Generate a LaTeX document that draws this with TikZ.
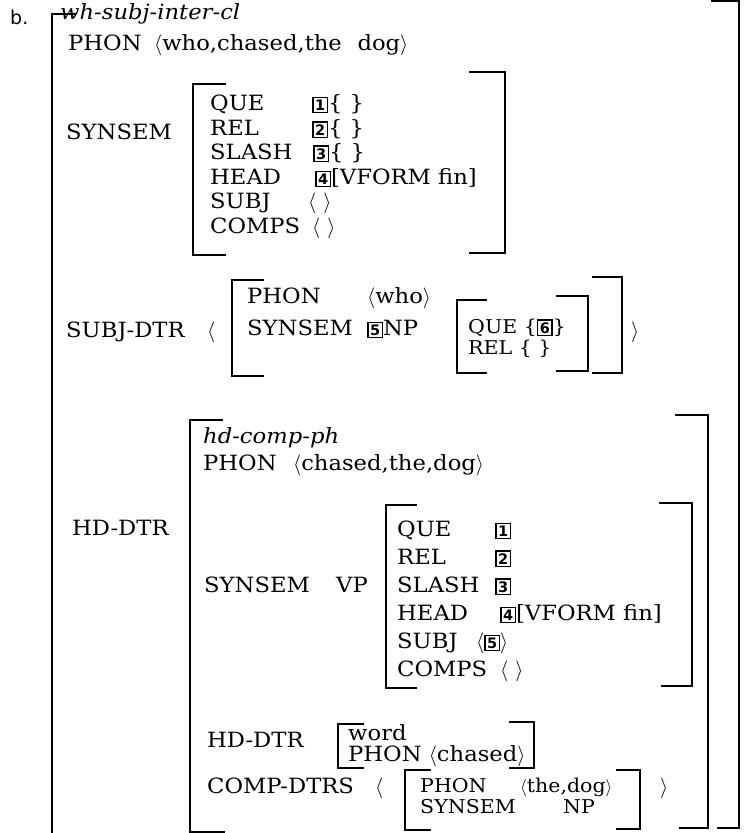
\documentclass[tikz,border=0pt]{standalone}
\usepackage{fontspec}
\setmainfont{DejaVu Serif}[FakeStretch=1.08]
\newfontfamily\numfont{DejaVu Sans}
\newcommand\bx[1]{{\setlength\fboxsep{1.6pt}\setlength\fboxrule{1.3pt}\fbox{\numfont\bfseries\fontsize{14.5}{14.5}\selectfont #1}}}
\newcommand\la{$\langle$}
\newcommand\ra{$\rangle$}
\tikzset{
  tx/.style={anchor=base west,inner sep=0pt,font=\fontsize{21}{23}\selectfont},
  stx/.style={anchor=base west,inner sep=0pt,font=\fontsize{19}{21}\selectfont},
  itx/.style={tx,font=\fontsize{21}{23}\selectfont\itshape},
  brk/.style={line width=1.8pt,line cap=rect}
}
\begin{document}
\begin{tikzpicture}[x=1pt,y=-1pt]
\useasboundingbox (0,0) rectangle (745,833);
% outer bracket
\node[tx,font=\numfont\fontsize{19}{21}\selectfont] (lbl) at (10,24) {b.};
\draw[brk] (75,14) -- (52,14) -- (52,833);
\draw[brk] (712,1) -- (739,1) -- (739,828) -- (718,828);
\node[itx] (type1) at (60,19) {wh-subj-inter-cl};
\node[tx] (phon1) at (68,50) {PHON};
\node[tx] (phon1v) at (154,50) {\la who,chased,the\hspace{0.4em} dog\ra};
\node[tx] (syn1) at (66,139) {SYNSEM};
% synsem AVM
\draw[brk] (225,84) -- (193,84) -- (193,255) -- (225,255);
\draw[brk] (470,72) -- (505,72) -- (505,253) -- (470,253);
\node[tx] (q1) at (210,110) {QUE};
\node[tx] (q1v) at (312,110) {\bx{1}\{ \}};
\node[tx] (r1) at (210,135) {REL};
\node[tx] (r1v) at (312,135) {\bx{2}\{ \}};
\node[tx] (s1) at (210,159) {SLASH};
\node[tx] (s1v) at (313,159) {\bx{3}\{ \}};
\node[tx] (h1) at (210,184) {HEAD};
\node[tx] (h1v) at (315,184) {\bx{4}[VFORM fin]};
\node[tx] (sb1) at (210,208) {SUBJ};
\node[tx] (sb1v) at (308,208) {\la\ \ra};
\node[tx] (c1) at (210,233) {COMPS};
\node[tx] (c1v) at (312,233) {\la\ \ra};
% subj-dtr
\node[tx] (sd) at (66,337) {SUBJ-DTR};
\node[tx] (sdl) at (207,337) {\la};
\draw[brk] (263,280) -- (232,280) -- (232,376) -- (263,376);
\draw[brk] (593,277) -- (622,277) -- (622,373) -- (593,373);
\node[tx] (p2) at (247,303) {PHON};
\node[tx] (p2v) at (367,303) {\la who\ra};
\node[tx] (s2) at (247,335) {SYNSEM};
\node[tx] (s2v) at (367,335) {\bx{5}NP};
\draw[brk] (486,300) -- (457,300) -- (457,373) -- (486,373);
\draw[brk] (557,296) -- (588,296) -- (588,371) -- (557,371);
\node[stx] (q2) at (468,333) {QUE \{\bx{6}\}};
\node[stx] (r2) at (468,354) {REL \{ \}};
\node[tx] (sdr) at (631,337) {\ra};
% hd-dtr
\node[tx] (hd) at (72,535) {HD-DTR};
\draw[brk] (222,420) -- (190,420) -- (190,832) -- (224,832);
\draw[brk] (676,415) -- (708,415) -- (708,828) -- (680,828);
\node[itx] (type3) at (203,443) {hd-comp-ph};
\node[tx] (p3) at (203,470) {PHON};
\node[tx] (p3v) at (293,470) {\la chased,the,dog\ra};
\node[tx] (s3) at (204,592) {SYNSEM};
\node[tx] (s3v) at (336,592) {VP};
% VP AVM
\draw[brk] (416,505) -- (386,505) -- (386,688) -- (416,688);
\draw[brk] (660,503) -- (692,503) -- (692,686) -- (662,686);
\node[tx] (q3) at (397,536) {QUE};
\node[tx] (q3v) at (495,536) {\bx{1}};
\node[tx] (r3) at (397,564) {REL};
\node[tx] (r3v) at (495,564) {\bx{2}};
\node[tx] (sl3) at (397,592) {SLASH};
\node[tx] (sl3v) at (495,592) {\bx{3}};
\node[tx] (h3) at (397,620) {HEAD};
\node[tx] (h3v) at (500,620) {\bx{4}[VFORM fin]};
\node[tx] (sb3) at (397,648) {SUBJ};
\node[tx] (sb3v) at (476,648) {\la\bx{5}\ra};
\node[tx] (c3) at (397,676) {COMPS};
\node[tx] (c3v) at (500,676) {\la\ \ra};
% head daughter word
\node[tx] (hd2) at (207,747) {HD-DTR};
\draw[brk] (363,724) -- (338,724) -- (338,768) -- (363,768);
\draw[brk] (510,722) -- (534,722) -- (534,768) -- (510,768);
\node[tx] (w) at (348,740) {word};
\node[tx] (w2) at (348,761) {PHON \la chased\ra};
% comp-dtrs
\node[tx] (cd) at (207,793) {COMP-DTRS};
\node[tx] (cdl) at (375,793) {\la};
\draw[brk] (430,770) -- (405,770) -- (405,830) -- (430,830);
\draw[brk] (617,770) -- (640,770) -- (640,829) -- (617,829);
\node[stx] (p4) at (420,792) {PHON};
\node[stx] (p4v) at (520,792) {\la the,dog\ra};
\node[stx] (s4) at (420,813) {SYNSEM};
\node[stx] (s4v) at (563,813) {NP};
\node[tx] (cdr) at (660,793) {\ra};
\end{tikzpicture}
\end{document}
